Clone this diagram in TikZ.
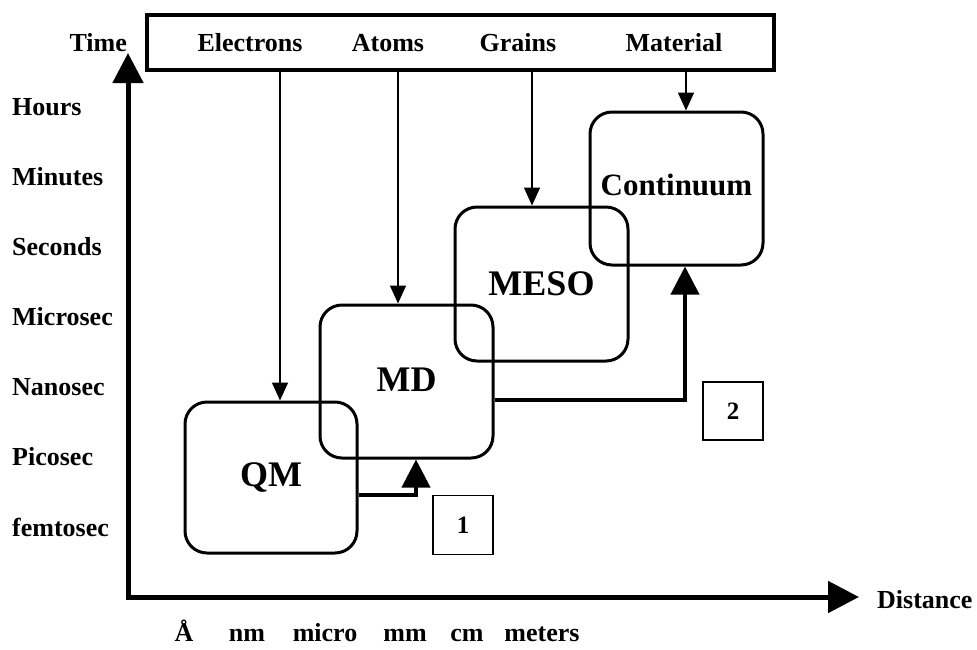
\documentclass[tikz,border=0pt]{standalone}
\usepackage{fontspec}
\setmainfont{Liberation Serif}
\usetikzlibrary{arrows.meta}
\tikzset{
  lab/.style={font=\fontsize{26}{30}\selectfont\bfseries, inner sep=0pt},
  big/.style={font=\fontsize{36}{40}\selectfont\bfseries},
  mbox/.style={draw, line width=3pt, rounded corners=22pt, minimum width=173pt, minimum height=153pt, inner sep=0pt},
  numbox/.style={draw, line width=1.5pt, minimum width=60pt, minimum height=59pt, inner sep=0pt, font=\fontsize{25}{30}\selectfont\bfseries},
  thinarrow/.style={line width=1.5pt, -{Triangle[width=16pt,length=18pt]}},
  thickarrow/.style={line width=4pt, -{Triangle[width=28pt,length=28pt]}},
  axis/.style={line width=5pt, {Triangle[width=30pt,length=30pt]}-{Triangle[width=31pt,length=31pt]}}
}
\begin{document}
\begin{tikzpicture}[x=1pt,y=-1pt]
\useasboundingbox (0,0) rectangle (977,649);
% top band
\node[draw, line width=4pt, minimum width=627pt, minimum height=55pt, inner sep=0pt] (band) at (460.5,42.5) {};
\node[lab] (el) at (250,43) {Electrons};
\node[lab] (at) at (388,43) {Atoms};
\node[lab] (gr) at (518,43) {Grains};
\node[lab] (ma) at (674,43) {Material};
\node[lab, anchor=east] (time) at (127,43) {Time};
% axes
\coordinate (yt) at (128,53);
\coordinate (org) at (128,597);
\coordinate (xt) at (859,597);
\draw[axis] (yt) -- (org) -- (xt);
\node[lab, anchor=west] (dist) at (877,600) {Distance};
% time labels
\node[lab, anchor=west] (t1) at (12,107) {Hours};
\node[lab, anchor=west] (t2) at (12,177) {Minutes};
\node[lab, anchor=west] (t3) at (12,247) {Seconds};
\node[lab, anchor=west] (t4) at (12,317) {Microsec};
\node[lab, anchor=west] (t5) at (12,387) {Nanosec};
\node[lab, anchor=west] (t6) at (12,457) {Picosec};
\node[lab, anchor=west] (t7) at (12,527) {femtosec};
% distance labels
\node[lab, anchor=base] (d1) at (184,641) {Å};
\node[lab, anchor=base] (d2) at (247,641) {nm};
\node[lab, anchor=base] (d3) at (325,641) {micro};
\node[lab, anchor=base] (d4) at (405,641) {mm};
\node[lab, anchor=base] (d5) at (467,641) {cm};
\node[lab, anchor=base] (d6) at (542,641) {meters};
% model boxes
\node[mbox, big, minimum width=172pt, minimum height=151pt] (QM) at (271,477.5) {QM};
\node[mbox, big] (MD) at (406.5,381.5) {\raisebox{4pt}{MD}};
\node[mbox, big, minimum height=154pt] (MESO) at (541.5,284) {MESO};
\node[mbox, font=\fontsize{31}{36}\selectfont\bfseries] (CO) at (676.5,188.5) {\raisebox{8pt}{Continuum}};
% number boxes
\node[numbox] (n1) at (463,525) {1};
\node[numbox, minimum height=58pt] (n2) at (733,411) {2};
% thin arrows
\coordinate (xe) at (280,0);
\coordinate (xa) at (398,0);
\coordinate (xg) at (532,0);
\coordinate (xm) at (686,0);
\draw[thinarrow] (xe |- band.south) -- (xe |- QM.north);
\draw[thinarrow] (xa |- band.south) -- (xa |- MD.north);
\draw[thinarrow] (xg |- band.south) -- (xg |- MESO.north);
\draw[thinarrow] (xm |- band.south) -- (xm |- CO.north);
% thick arrows
\coordinate (k1) at (416,495);
\coordinate (k2) at (685,400);
\draw[thickarrow] (QM.east |- k1) -| (k1 |- MD.south);
\draw[thickarrow] (MD.east |- k2) -| (k2 |- CO.south);
\end{tikzpicture}
\end{document}
